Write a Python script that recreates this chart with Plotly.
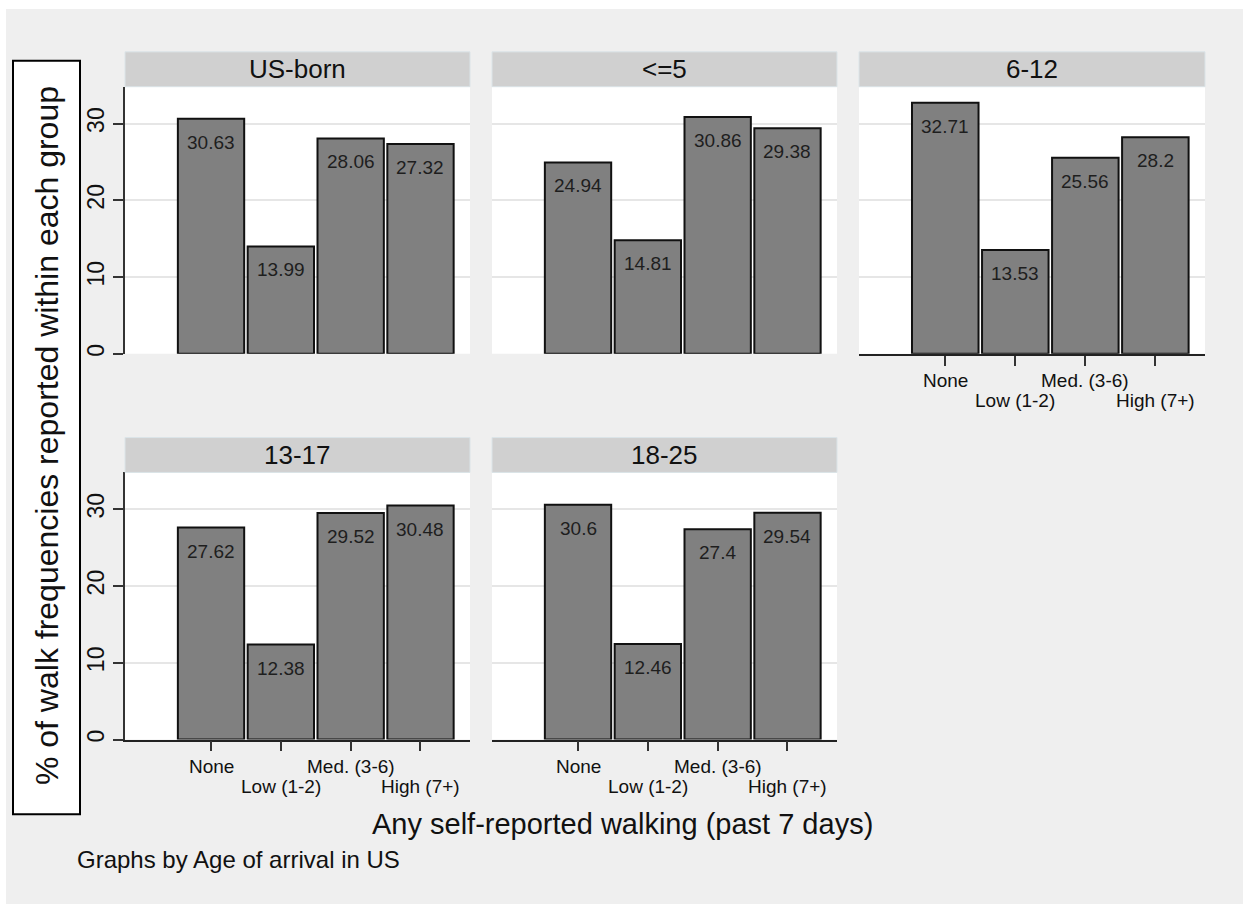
import plotly.graph_objects as go

# Walking frequency categories (x axis) and age-of-arrival groups (panels)
categories = ["None", "Low (1-2)", "Med. (3-6)", "High (7+)"]
groups = ["US-born", "<=5", "6-12", "13-17", "18-25"]

# Percent of walk frequencies within each group
pct_us_born = [30.63, 13.99, 28.06, 27.32]
pct_le5 = [24.94, 14.81, 30.86, 29.38]
pct_6_12 = [32.71, 13.53, 25.56, 28.2]
pct_13_17 = [27.62, 12.38, 29.52, 30.48]
pct_18_25 = [30.6, 12.46, 27.4, 29.54]
series = [pct_us_born, pct_le5, pct_6_12, pct_13_17, pct_18_25]

y_ticks = [0, 10, 20, 30]

W, H = 1243, 907
FONT = "Liberation Sans, Arial, sans-serif"


def px_x(p):
    return p / W


def px_y(p):
    return 1 - p / H


# pixel boxes of the panel plot areas: (left, right, top, bottom)
col_px = [(125, 470), (492, 837), (859, 1205)]
row_px = [(87, 355), (474, 742)]
strip_px = [(52, 87), (439, 474)]

fig = go.Figure()
shapes = []
annotations = []

# page background
shapes.append(dict(type="rect", xref="paper", yref="paper",
                   x0=px_x(6), x1=1, y0=0, y1=px_y(9),
                   fillcolor="#efefef", line=dict(width=0), layer="below"))

xpos = list(range(len(categories)))

for i, (grp, vals) in enumerate(zip(groups, series)):
    r, c = divmod(i, 3)
    n = i + 1
    xa = "x" if n == 1 else f"x{n}"
    ya = "y" if n == 1 else f"y{n}"
    xl, xr = col_px[c]
    yt, yb = row_px[r]
    st, sb = strip_px[r]

    fig.add_trace(go.Bar(
        x=xpos, y=vals, xaxis=xa, yaxis=ya, width=0.95,
        marker=dict(color="#808080", line=dict(color="#111111", width=2)),
        showlegend=False, hoverinfo="skip",
    ))

    # value labels inside the bar tops
    for xv, v in zip(xpos, vals):
        annotations.append(dict(
            x=xv, y=v, xref=xa, yref=ya, text=f"{v:g}", showarrow=False,
            yanchor="top", yshift=-11,
            font=dict(family=FONT, size=19, color="#1e1e1e")))

    show_x = (r == 1) or (i == 2)
    left_col = (c == 0)

    fig.update_layout(**{
        ("xaxis" if n == 1 else f"xaxis{n}"): dict(
            domain=[px_x(xl), px_x(xr)], anchor=ya,
            range=[-1.232, 3.709], tickvals=xpos, showticklabels=False,
            showgrid=False, zeroline=False, fixedrange=True,
            showline=show_x, linecolor="#222222", linewidth=1.5,
            ticks="outside" if show_x else "", ticklen=10,
            tickcolor="#333333", tickwidth=1.5),
        ("yaxis" if n == 1 else f"yaxis{n}"): dict(
            domain=[px_y(yb), px_y(yt)], anchor=xa,
            range=[0, 34.8], tickvals=y_ticks,
            showgrid=True, gridcolor="#e6e6e6", gridwidth=1.5,
            zeroline=False, fixedrange=True,
            showline=left_col, linecolor="#333333", linewidth=1.5,
            ticks="outside" if left_col else "", ticklen=10,
            tickcolor="#333333", tickwidth=1.5,
            showticklabels=left_col, tickangle=-90,
            tickfont=dict(family=FONT, size=23, color="#111111")),
    })

    # white plot area
    shapes.append(dict(type="rect", xref="paper", yref="paper",
                       x0=px_x(xl), x1=px_x(xr), y0=px_y(yb), y1=px_y(yt),
                       fillcolor="white", line=dict(width=0), layer="below"))
    # strip header
    shapes.append(dict(type="rect", xref="paper", yref="paper",
                       x0=px_x(xl), x1=px_x(xr), y0=px_y(sb), y1=px_y(st),
                       fillcolor="#d0d0d0", line=dict(color="#dbe4e8", width=1)))
    annotations.append(dict(
        x=(px_x(xl) + px_x(xr)) / 2, y=px_y((st + sb) / 2),
        xref="paper", yref="paper", text=grp, showarrow=False,
        xanchor="center", yanchor="middle",
        font=dict(family=FONT, size=26, color="#111111")))

    # staggered category labels under the x axis
    if show_x:
        for k, cat in enumerate(categories):
            annotations.append(dict(
                x=k, y=px_y(yb), xref=xa, yref="paper", text=cat,
                showarrow=False, xanchor="center", yanchor="middle",
                yshift=-27 if k % 2 == 0 else -47,
                font=dict(family=FONT, size=19, color="#111111")))

# boxed y-axis title
shapes.append(dict(type="rect", xref="paper", yref="paper",
                   x0=px_x(13), x1=px_x(80), y0=px_y(817), y1=px_y(61),
                   fillcolor="white", line=dict(color="#000000", width=2)))
annotations.append(dict(
    x=px_x(46.5), y=px_y(437), xref="paper", yref="paper",
    text="% of walk frequencies reported within each group",
    textangle=-90, showarrow=False, xanchor="center", yanchor="middle",
    font=dict(family=FONT, size=32, color="#111111")))

# x-axis title
annotations.append(dict(
    x=px_x(622), y=px_y(827), xref="paper", yref="paper",
    text="Any self-reported walking (past 7 days)", showarrow=False,
    xanchor="center", yanchor="middle",
    font=dict(family=FONT, size=29, color="#111111")))

# note
annotations.append(dict(
    x=px_x(75), y=px_y(862), xref="paper", yref="paper",
    text="Graphs by Age of arrival in US", showarrow=False,
    xanchor="left", yanchor="middle",
    font=dict(family=FONT, size=24, color="#111111")))

fig.update_layout(
    width=W, height=H, margin=dict(l=0, r=0, t=0, b=0),
    paper_bgcolor="white", plot_bgcolor="rgba(0,0,0,0)",
    shapes=shapes, annotations=annotations, barmode="overlay",
    font=dict(family=FONT),
)

fig.write_html("out.html")
